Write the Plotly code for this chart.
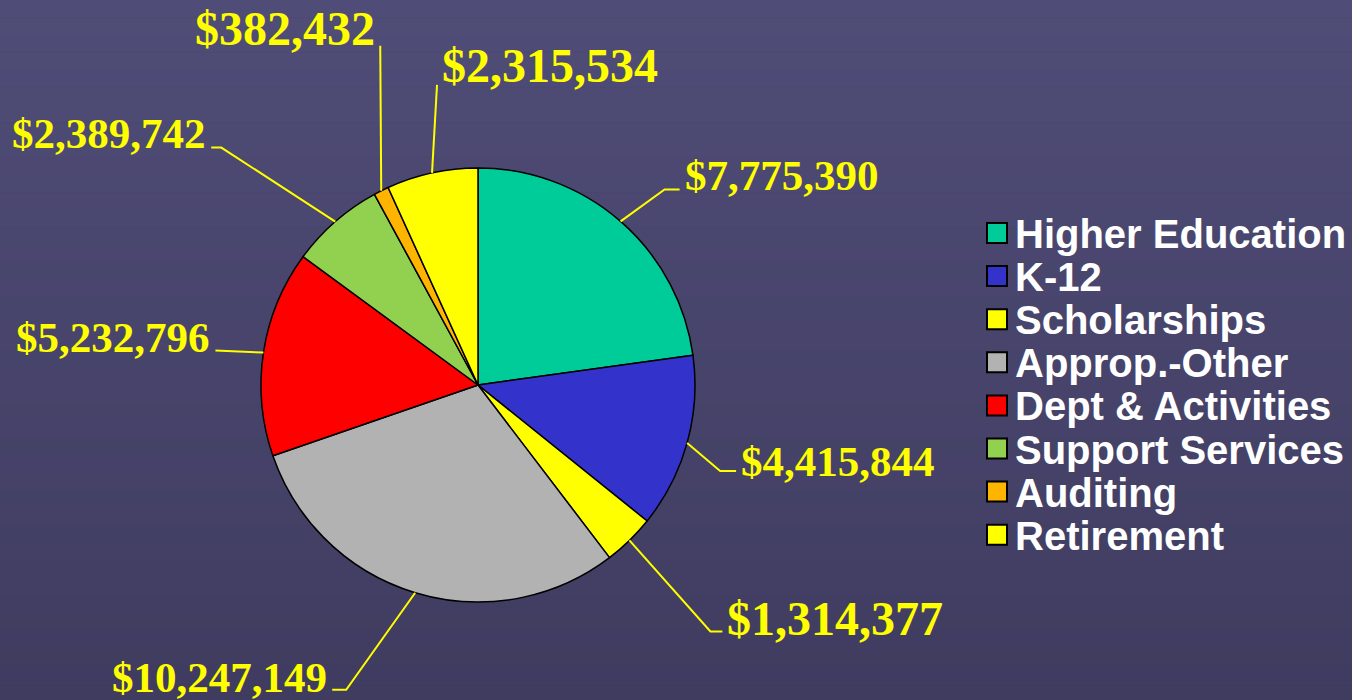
import math

import plotly.graph_objects as go

# ── Data ──────────────────────────────────────────────────────────────────────
categories = [
    "Higher Education",
    "K-12",
    "Scholarships",
    "Approp.-Other",
    "Dept & Activities",
    "Support Services",
    "Auditing",
    "Retirement",
]
amounts = [7775390, 4415844, 1314377, 10247149, 5232796, 2389742, 382432, 2315534]
colors = ["#00cc99", "#3333cc", "#ffff00", "#b2b2b2", "#ff0000", "#92d050", "#ffb400", "#ffff00"]

# ── Layout constants (pixels) ────────────────────────────────────────────────
W, H = 1352, 700
CX, CY, R = 478, 385, 217
# leader line: (dx, dy) from slice edge to elbow, horizontal tail length, side
LEADERS = [
    (44, -32, 15, "left"),
    (33, 28, 16, "left"),
    (81, 91, 12, "left"),
    (-69, 97, -14, "right"),
    (-48, -2, 0, "right"),
    (-114, -74, -10, "right"),
    (-1, -145, 0, "right"),
    (5, -88, 0, "left"),
]
LABEL_LIFT = [14, 9, 13, 12, 13, 14, 17, 19]
LABEL_SIZE = [43, 43, 48, 43, 43, 43, 48, 48]

LEGEND_FONT = dict(family="Liberation Sans", size=40, color="white")


def px(x):
    return x / W


def py(y):
    return 1 - y / H


fig = go.Figure()

fig.add_trace(
    go.Pie(
        labels=categories,
        values=amounts,
        sort=False,
        direction="clockwise",
        rotation=0,
        textinfo="none",
        marker=dict(colors=colors, line=dict(color="black", width=1.5)),
        domain=dict(x=[px(CX - R), px(CX + R)], y=[py(CY + R), py(CY - R)]),
        showlegend=False,
        hovertemplate="%{label}: $%{value:,}<extra></extra>",
    )
)

# ── Background gradient ──────────────────────────────────────────────────────
shapes = []
top, bot = (79, 76, 119), (64, 60, 96)
n_bands = 40
for i in range(n_bands):
    t = i / (n_bands - 1)
    c = tuple(round(top[k] + (bot[k] - top[k]) * t) for k in range(3))
    shapes.append(dict(
        type="rect", xref="paper", yref="paper", layer="below",
        x0=0, x1=1, y0=1 - (i + 1) / n_bands, y1=1 - i / n_bands,
        fillcolor=f"rgb{c}", line=dict(width=0),
    ))

# ── Value labels with leader lines ───────────────────────────────────────────
annotations = []
total = sum(amounts)
cum = 0
for val, (dx, dy, tail, side), lift, fs in zip(amounts, LEADERS, LABEL_LIFT, LABEL_SIZE):
    mid = (cum + val / 2) / total * 2 * math.pi
    cum += val
    ax = CX + R * math.sin(mid)
    ay = CY - R * math.cos(mid)
    ex, ey = ax + dx, ay + dy
    tx = ex + tail
    shapes.append(dict(
        type="path", xref="paper", yref="paper",
        path=f"M {px(ax)} {py(ay)} L {px(ex)} {py(ey)} L {px(tx)} {py(ey)}",
        line=dict(color="#ffff00", width=2),
    ))
    gap = 3 if side == "left" else -3
    annotations.append(dict(
        x=px(tx + gap), y=py(ey - lift), xref="paper", yref="paper",
        text=f"<b>${val:,}</b>", showarrow=False,
        xanchor=side, yanchor="middle",
        font=dict(family="Liberation Serif", size=fs, color="#ffff00"),
    ))

# ── Legend (drawn by hand for large swatches) ────────────────────────────────
LEG_X, LEG_Y0, LEG_DY, SW = 987, 233, 43.1, 20
for i, (name, col) in enumerate(zip(categories, colors)):
    yc = LEG_Y0 + i * LEG_DY
    shapes.append(dict(
        type="rect", xref="paper", yref="paper",
        x0=px(LEG_X), x1=px(LEG_X + SW), y0=py(yc + SW / 2), y1=py(yc - SW / 2),
        fillcolor=col, line=dict(color="black", width=2),
    ))
    annotations.append(dict(
        x=px(LEG_X + SW + 6), y=py(yc + 1), xref="paper", yref="paper",
        text=f"<b>{name}</b>", showarrow=False,
        xanchor="left", yanchor="middle", font=LEGEND_FONT,
    ))

fig.update_layout(
    width=W,
    height=H,
    margin=dict(l=0, r=0, t=0, b=0),
    paper_bgcolor="rgb(72,68,107)",
    plot_bgcolor="rgba(0,0,0,0)",
    shapes=shapes,
    annotations=annotations,
)

fig.write_html(
    "out.html",
    config={"displayModeBar": False},
    post_script="document.body.style.margin='0';document.body.style.overflow='hidden';",
)
